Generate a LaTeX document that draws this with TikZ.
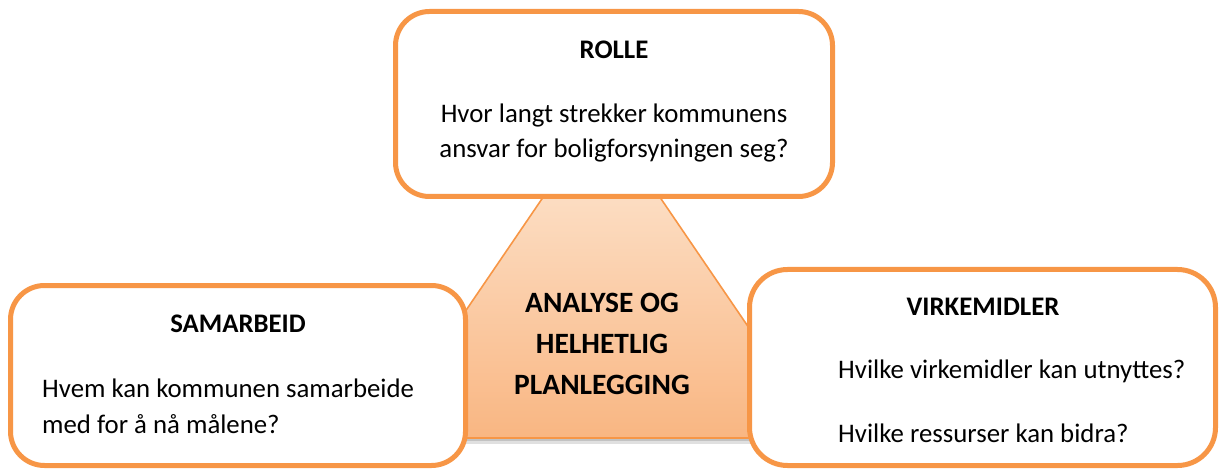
\documentclass[tikz,border=0pt]{standalone}
\usepackage{fontspec}
\setmainfont{Carlito}
\definecolor{accent}{HTML}{F79646}
\definecolor{peachtop}{HTML}{FCDEC4}
\definecolor{peachbot}{HTML}{F9B682}
\begin{document}
\begin{tikzpicture}[x=1pt,y=-1pt,
  card/.style={draw=accent,line width=5pt,fill=white,rounded corners=34pt,inner sep=0pt},
  ttl/.style={anchor=base,inner sep=0pt,font=\fontsize{26.8}{30}\selectfont\bfseries},
  body/.style={inner sep=0pt,font=\fontsize{26.8}{30}\selectfont},
  ctr/.style={anchor=base,inner sep=0pt,font=\fontsize{29.5}{32}\selectfont\bfseries}]
\useasboundingbox (0,0) rectangle (1220,470);
% central trapezoid with shadow
\fill[black!40,opacity=0.6] (382,436) rectangle (826,441);
\fill[black!20,opacity=0.6] (382,441) rectangle (826,444);
\shade[top color=peachtop,bottom color=peachbot,draw=accent,line width=1.6pt]
  (548,190) -- (655,190) -- (824,438) -- (379,438) -- cycle;
\node[ctr] (c1) at (602,312) {ANALYSE OG};
\node[ctr] (c2) at (602,353) {HELHETLIG};
\node[ctr] (c3) at (602,394) {PLANLEGGING};
% boxes
\node[card,minimum width=437pt,minimum height=185pt] (rolle) at (614,104) {};
\node[card,minimum width=455pt,minimum height=180pt] (samarbeid) at (238,375.5) {};
\node[card,minimum width=466pt,minimum height=196pt,rounded corners=38pt] (virk) at (982.5,367.5) {};
% texts
\node[ttl] (t1) at (614,59) {ROLLE};
\node[body,anchor=base] (r1) at (614,123) {Hvor langt strekker kommunens};
\node[body,anchor=base] (r2) at (614,158) {ansvar for boligforsyningen seg?};
\node[ttl] (t2) at (238,332) {SAMARBEID};
\node[body,anchor=base west] (s1) at (42,397) {Hvem kan kommunen samarbeide};
\node[body,anchor=base west] (s2) at (42,433) {med for å nå målene?};
\node[ttl] (t3) at (983,315) {VIRKEMIDLER};
\node[body,anchor=base west] (v1) at (838,378) {Hvilke virkemidler kan utnyttes?};
\node[body,anchor=base west] (v2) at (838,442) {Hvilke ressurser kan bidra?};
\end{tikzpicture}
\end{document}
